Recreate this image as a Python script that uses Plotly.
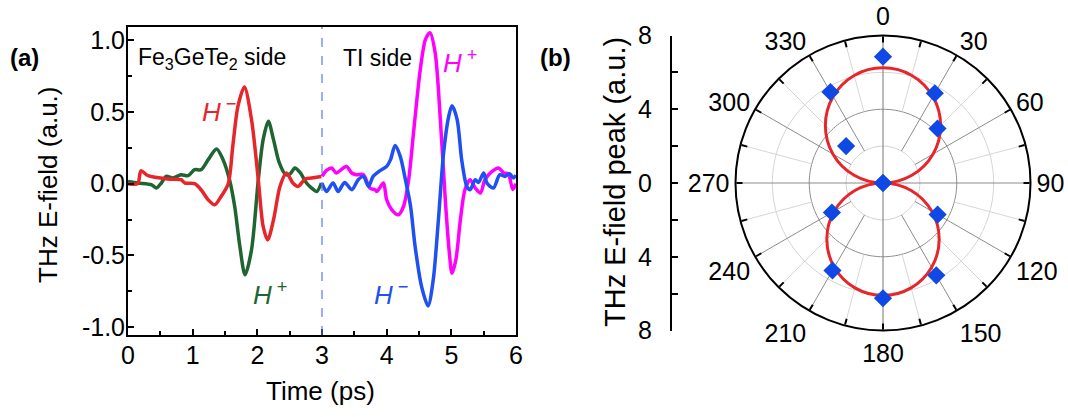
import plotly.graph_objects as go

W, H = 1068, 417
FONT = "Liberation Sans, Arial, sans-serif"

# ---------------- Panel (a) data: THz waveforms ----------------
t_fgt_hminus = [0, 0.15, 0.2, 0.31, 0.62, 0.82, 0.88, 1.03, 1.13, 1.24, 1.34, 1.44, 1.55, 1.62, 1.70,
                1.80, 1.91, 2.015, 2.09, 2.16, 2.25, 2.35, 2.45, 2.55, 2.63, 2.74, 2.84, 2.99]
e_fgt_hminus = [0.0, 0.0, 0.09, 0.056, 0.033, 0.028, 0.005, 0.0, -0.042, -0.112, -0.147, -0.089, 0.0, 0.26, 0.54,
                0.675, 0.448, 0.028, -0.298, -0.392, -0.252, -0.019, 0.075, 0.005, -0.019, 0.033, 0.04, 0.051]

t_fgt_hplus = [0, 0.155, 0.36, 0.44, 0.515, 0.59, 0.695, 0.82, 0.93, 1.03, 1.13, 1.24, 1.37, 1.47, 1.57, 1.65,
               1.73, 1.81, 1.91, 2.015, 2.09, 2.17, 2.25, 2.34, 2.44, 2.51, 2.58, 2.66, 2.76, 2.84, 2.92, 2.99]
e_fgt_hplus = [0.016, 0.005, -0.007, -0.03, 0.005, 0.051, 0.04, 0.063, 0.056, 0.098, 0.098, 0.168, 0.242, 0.168,
               0.028, -0.159, -0.438, -0.636, -0.462, 0.028, 0.308, 0.436, 0.308, 0.145, 0.063, 0.07, 0.11, 0.079,
               0.005, -0.03, -0.054, 0.005]

t_ti_hplus = [3.0, 3.07, 3.15, 3.22, 3.33, 3.38, 3.46, 3.53, 3.64, 3.74, 3.82, 3.85, 3.95, 4.0, 4.08, 4.18, 4.26,
              4.34, 4.42, 4.52, 4.6, 4.67, 4.75, 4.83, 4.91, 4.97, 5.01, 5.07, 5.14, 5.21, 5.29, 5.37, 5.45, 5.52,
              5.63, 5.73, 5.81, 5.88, 5.95, 6.0]
e_ti_hplus = [0.051, 0.093, 0.11, 0.075, 0.11, 0.121, 0.075, 0.063, 0.063, -0.03, -0.042, -0.054, 0.005, -0.112,
              -0.182, -0.217, -0.159, 0.028, 0.378, 0.797, 1.007, 1.054, 0.914, 0.448, -0.135, -0.485, -0.625,
              -0.531, -0.252, -0.042, 0.028, -0.03, -0.065, 0.028, 0.086, 0.11, 0.075, 0.07, -0.04, 0.0]

t_ti_hminus = [3.0, 3.07, 3.17, 3.25, 3.35, 3.46, 3.56, 3.64, 3.72, 3.79, 3.88, 4.0, 4.06, 4.13, 4.21, 4.29, 4.37,
               4.44, 4.54, 4.64, 4.72, 4.8, 4.88, 4.96, 5.01, 5.09, 5.16, 5.24, 5.29, 5.37, 5.42, 5.5, 5.55, 5.65,
               5.75, 5.83, 5.9, 5.96, 6.0]
e_ti_hminus = [0.005, -0.054, 0.005, -0.054, 0.009, -0.042, 0.028, 0.051, -0.019, 0.051, 0.086, 0.121, 0.168,
               0.266, 0.191, 0.028, -0.159, -0.438, -0.718, -0.853, -0.671, -0.252, 0.214, 0.471, 0.545, 0.448,
               0.168, -0.019, -0.042, 0.028, 0.009, 0.075, 0.005, -0.03, 0.063, 0.051, 0.07, 0.04, 0.06]

x_ticks_a = [0, 1, 2, 3, 4, 5, 6]
y_ticks_a = [-1.0, -0.5, 0.0, 0.5, 1.0]
y_ticktext_a = ["-1.0", "-0.5", "0.0", "0.5", "1.0"]

# ---------------- Panel (b) data: polar ----------------
pol_angle = [0, 30, 45, 90, 120, 150, 180, 210, 240, 270, 315, 330]
pol_peak = [6.85, 5.62, 4.18, 0.0, 3.42, 5.78, 6.25, 5.48, 3.2, 0.0, 2.83, 5.7]

fit_angle = [0, 15, 30, 45, 60, 75, 90, 105, 120, 135, 150, 165, 180, 195, 210, 225, 240, 255, 270,
             285, 300, 315, 330, 345, 360]
fit_peak = [6.25, 6.04, 5.41, 4.42, 3.13, 1.62, 0.0, 1.58, 3.05, 4.31, 5.28, 5.89, 6.1, 5.89, 5.28, 4.31,
            3.05, 1.58, 0.0, 1.62, 3.13, 4.42, 5.41, 6.04, 6.25]

ang_tickvals = list(range(0, 360, 15))
ang_ticktext = [str(a) if a % 30 == 0 else "" for a in ang_tickvals]
rad_tickvals = [-8, -6, -4, -2, 0, 2, 4, 6, 8]
rad_ticktext = ["8", "", "4", "", "0", "", "4", "", "8"]

RED = "#E6262B"
GREEN = "#1F6532"
MAGENTA = "#FF00FF"
BLUE = "#1E50F2"
DIAMOND = "#1048E6"


def px(x):
    return x / W


def py(y):
    return 1 - y / H


fig = go.Figure()

# panel (a) traces
for tt, ee, col in [(t_fgt_hplus, e_fgt_hplus, GREEN), (t_fgt_hminus, e_fgt_hminus, RED),
                    (t_ti_hplus, e_ti_hplus, MAGENTA), (t_ti_hminus, e_ti_hminus, BLUE)]:
    fig.add_trace(go.Scatter(x=tt, y=ee, mode="lines", line=dict(color=col, width=3.5, shape="spline",
                                                                 smoothing=0.8),
                             showlegend=False, hoverinfo="skip", xaxis="x", yaxis="y"))

# panel (b) grid drawn as polar lines
circle_theta = list(range(0, 361, 2))
for r0, col in [(2, "#cfcfcf"), (4, "#8c8c8c"), (6, "#d4d4d4")]:
    fig.add_trace(go.Scatterpolar(r=[r0] * len(circle_theta), theta=circle_theta, mode="lines",
                                  line=dict(color=col, width=1), showlegend=False, hoverinfo="skip",
                                  subplot="polar"))
maj_r, maj_t, min_r, min_t = [], [], [], []
for a in range(0, 360, 15):
    if a % 90 == 0:
        continue
    if a % 30 == 0:
        maj_r += [2, 8, None]
        maj_t += [a, a, None]
    else:
        min_r += [4, 8, None]
        min_t += [a, a, None]
fig.add_trace(go.Scatterpolar(r=min_r, theta=min_t, mode="lines", line=dict(color="#d6d6d6", width=1),
                              showlegend=False, hoverinfo="skip", subplot="polar"))
fig.add_trace(go.Scatterpolar(r=maj_r, theta=maj_t, mode="lines", line=dict(color="#8c8c8c", width=1),
                              showlegend=False, hoverinfo="skip", subplot="polar"))
fig.add_trace(go.Scatterpolar(r=[8, 8, None, 8, 8], theta=[0, 180, None, 90, 270], mode="lines",
                              line=dict(color="#8c8c8c", width=1.2), showlegend=False, hoverinfo="skip",
                              subplot="polar"))

# fit curve: two lobes
top = [(a, r) for a, r in zip(fit_angle, fit_peak) if a >= 270] + \
      [(a, r) for a, r in zip(fit_angle, fit_peak) if 0 < a <= 90]
bot = [(a, r) for a, r in zip(fit_angle, fit_peak) if 90 <= a <= 270]
for seg in (top, bot):
    fig.add_trace(go.Scatterpolar(theta=[s[0] for s in seg], r=[s[1] for s in seg], mode="lines",
                                  line=dict(color=RED, width=3, shape="spline"), showlegend=False,
                                  hoverinfo="skip", subplot="polar"))

fig.add_trace(go.Scatterpolar(theta=pol_angle, r=pol_peak, mode="markers",
                              marker=dict(symbol="diamond", size=14, color=DIAMOND),
                              showlegend=False, hoverinfo="skip", subplot="polar"))

# dummy trace for the radial side axis
fig.add_trace(go.Scatter(x=[0], y=[0], mode="markers", marker=dict(opacity=0), showlegend=False,
                         hoverinfo="skip", xaxis="x2", yaxis="y2"))

tickfont = dict(family=FONT, size=25, color="black")

fig.update_layout(
    width=W, height=H, template="none",
    margin=dict(l=0, r=0, t=0, b=0),
    paper_bgcolor="white", plot_bgcolor="white",
    font=dict(family=FONT, color="black"),
    xaxis=dict(domain=[px(128), px(516)], range=[0, 6], tickvals=x_ticks_a, ticks="inside", ticklen=6,
               tickwidth=1.5, tickcolor="black", minor=dict(dtick=0.5, ticks="inside", ticklen=4,
                                                             tickwidth=1.5, tickcolor="black"),
               showline=True, linecolor="black", linewidth=2, mirror=True, showgrid=False, zeroline=False,
               tickfont=tickfont, anchor="y", automargin=False, ticklabelstandoff=-3),
    yaxis=dict(domain=[py(335), py(27)], range=[-1.056, 1.094], tickvals=y_ticks_a, ticktext=y_ticktext_a,
               ticks="inside", ticklen=6, tickwidth=1.5, tickcolor="black",
               minor=dict(dtick=0.25, ticks="inside", ticklen=4, tickwidth=1.5, tickcolor="black"),
               showline=True, linecolor="black", linewidth=2, mirror=True, showgrid=False, zeroline=False,
               tickfont=tickfont, anchor="x", automargin=False, ticklabelstandoff=-4),
    xaxis2=dict(domain=[px(672), px(680)], visible=False, range=[0, 1], anchor="y2"),
    yaxis2=dict(domain=[py(330.5), py(35.5)], range=[-8, 8], tickvals=rad_tickvals, ticktext=rad_ticktext,
                ticks="inside", ticklen=6, tickwidth=1.5, tickcolor="black", showline=True, linecolor="black",
                linewidth=2, showgrid=False, zeroline=False, tickfont=tickfont, anchor="x2", side="left",
                ticklabelstandoff=13, automargin=False),
    polar=dict(
        domain=dict(x=[px(735.5), px(1030.5)], y=[py(330.5), py(35.5)]),
        bgcolor="white",
        angularaxis=dict(rotation=90, direction="clockwise", tickmode="array", tickvals=ang_tickvals,
                         ticktext=ang_ticktext, ticks="inside", ticklen=6, tickwidth=1.5, tickcolor="black",
                         showline=True, linecolor="black", linewidth=2, showgrid=False, tickfont=tickfont),
        radialaxis=dict(range=[0, 8], showline=False, showticklabels=False, ticks="", showgrid=False),
    ),
    shapes=[dict(type="line", xref="x", yref="y domain", x0=3, x1=3, y0=0, y1=1,
                 line=dict(color="#5a78f5", width=1.2, dash="dash"))],
)

ann = []
ann.append(dict(text="Time (ps)", x=px(320), y=py(391), font=dict(size=26)))
ann.append(dict(text="THz E-field (a.u.)", x=px(48), y=py(185), textangle=-90, font=dict(size=26)))
ann.append(dict(text="THz E-field peak (a.u.)", x=px(615), y=py(182), textangle=-90, font=dict(size=29)))
ann.append(dict(text="<b>(a)</b>", x=px(24), y=py(57), font=dict(size=24)))
ann.append(dict(text="<b>(b)</b>", x=px(555), y=py(57), font=dict(size=24)))
ann.append(dict(text="Fe<sub>3</sub>GeTe<sub>2</sub> side", x=px(136), y=py(58), xanchor="left",
                font=dict(size=23)))
ann.append(dict(text="TI side", x=px(341), y=py(58), xanchor="left", font=dict(size=23)))
ann.append(dict(text="<i>H</i><sup> −</sup>", x=px(219), y=py(110), font=dict(size=26, color=RED)))
ann.append(dict(text="<i>H</i><sup> +</sup>", x=px(460), y=py(62), font=dict(size=26, color=MAGENTA)))
ann.append(dict(text="<i>H</i><sup> +</sup>", x=px(270), y=py(293), font=dict(size=26, color=GREEN)))
ann.append(dict(text="<i>H</i><sup> −</sup>", x=px(391), y=py(293), font=dict(size=26, color=BLUE)))
for a in ann:
    a.update(xref="paper", yref="paper", showarrow=False)
    a.setdefault("xanchor", "center")
    a["yanchor"] = "middle"
    a["font"].setdefault("color", "black")
    a["font"]["family"] = FONT
fig.update_layout(annotations=ann)

fig.write_html("out.html", config={"displayModeBar": False},
               post_script="document.body.style.margin='0px';")
